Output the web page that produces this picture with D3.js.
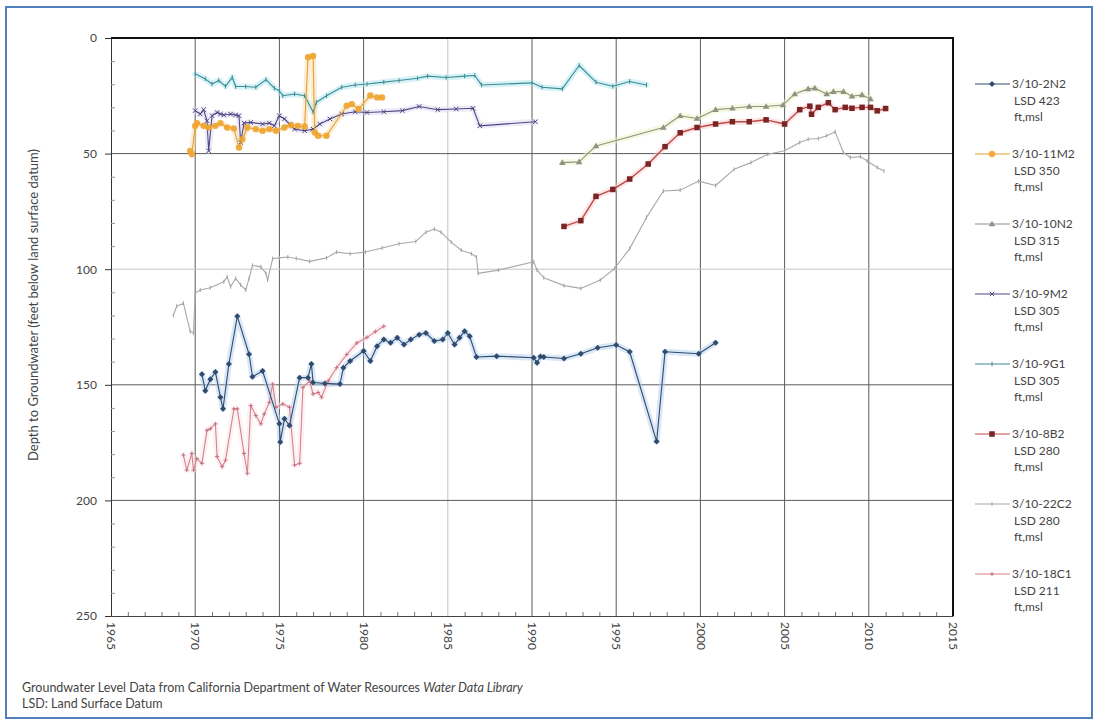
<!DOCTYPE html>
<html>
<head>
<meta charset="utf-8">
<script src="https://cdn.jsdelivr.net/npm/d3@7"></script>
<style>
body { margin: 0; background: #fff; }
svg { font-family: Lato, "Open Sans", sans-serif; }
</style>
</head>
<body>
<div id="chart"></div>
<script>
// [year, depth in feet below LSD]
var s2N2 = [[1970.4,145.4],[1970.6,152.6],[1970.9,147.6],[1971.2,144.5],[1971.5,155.4],[1971.65,160.4],[1972.0,141],[1972.5,120.4],[1973.2,136.8],[1973.4,146.5],[1974.0,144],[1975.0,166.9],[1975.05,174.7],[1975.3,164.7],[1975.6,167.6],[1976.2,146.9],[1976.7,146.9],[1976.9,141],[1977.0,149],[1977.7,149.4],[1978.6,149.7],[1978.8,142.6],[1979.2,139.7],[1980.0,135.4],[1980.4,139.7],[1980.8,133.3],[1981.2,130.4],[1981.6,131.8],[1982.0,129.7],[1982.4,132.6],[1982.8,130.4],[1983.3,128.3],[1983.7,127.6],[1984.2,131.1],[1984.7,130.4],[1985.0,127.6],[1985.4,132.6],[1985.7,129.7],[1986.0,126.8],[1986.3,129],[1986.7,138],[1987.9,137.6],[1990.1,138.3],[1990.3,140.5],[1990.5,137.8],[1990.7,138],[1991.9,138.6],[1992.9,136.6],[1993.9,134],[1995.0,132.8],[1995.8,135.7],[1997.4,174.5],[1997.9,135.7],[1999.9,136.6],[2000.9,131.8]];
var s11M2 = [[1969.7,48.8],[1969.8,50.3],[1970.0,38],[1970.1,36.8],[1970.5,38],[1970.8,38.7],[1971.2,38],[1971.5,36.8],[1971.9,38.7],[1972.3,39.1],[1972.6,47.4],[1972.8,43.8],[1973.1,38.7],[1973.6,39.4],[1974.0,40.1],[1974.4,39.4],[1974.8,40.1],[1975.3,38.7],[1975.7,37.7],[1976.1,38],[1976.5,38.3],[1976.7,8.3],[1977.0,7.8],[1977.1,40.9],[1977.3,42.3],[1977.8,42.3],[1979.0,29.3],[1979.3,28.6],[1979.7,30.7],[1980.4,24.9],[1980.8,25.7],[1981.1,25.7]];
var s10N2 = [[1991.8,53.9],[1992.8,53.6],[1993.8,46.7],[1997.8,38.7],[1998.8,33.6],[1999.8,34.8],[2000.9,31],[2001.9,30.4],[2002.9,29.6],[2003.9,29.6],[2004.9,29],[2005.6,24.2],[2006.4,22],[2006.8,21.7],[2007.5,24.2],[2007.9,23.2],[2008.5,23.2],[2009.0,25.2],[2009.6,24.6],[2010.1,26.4]];
var s9M2 = [[1970.0,31.4],[1970.3,32.9],[1970.5,31],[1970.7,35.8],[1970.8,48.8],[1971.0,33.6],[1971.3,32.2],[1971.5,32.9],[1971.7,33.3],[1972.1,32.9],[1972.4,33.3],[1972.6,33.6],[1972.7,45.2],[1972.9,36.8],[1973.3,36.5],[1974.0,37.2],[1974.4,36.8],[1974.7,38],[1975.0,33.6],[1975.3,35],[1975.6,37.2],[1975.9,39.4],[1976.5,40.1],[1977.0,39.4],[1977.4,37.2],[1978.0,35],[1978.7,32.9],[1979.5,31.9],[1980.2,32.2],[1981.2,31.9],[1982.3,31.4],[1983.3,29.6],[1984.4,31],[1985.5,30.7],[1986.5,30.4],[1986.9,38],[1990.2,36.2]];
var s9G1 = [[1970.0,15.5],[1970.6,17.7],[1971.0,19.9],[1971.4,18.4],[1971.8,20.9],[1972.2,17],[1972.4,21],[1973.0,21],[1973.6,21.3],[1974.2,18],[1974.7,21.7],[1975.0,22.8],[1975.2,25],[1975.9,24.2],[1976.5,25],[1977.0,32],[1977.2,27.8],[1977.8,25],[1978.7,21.3],[1979.5,20.3],[1980.2,19.9],[1981.2,19.1],[1982.1,18.4],[1983.2,17.4],[1983.8,16.5],[1984.9,17.1],[1986.0,16.5],[1986.6,16.2],[1987.0,20.3],[1990.0,19.4],[1990.6,21.3],[1991.8,22],[1992.8,11.9],[1993.8,19.1],[1994.8,20.9],[1995.8,18.8],[1996.8,20.3]];
var s8B2 = [[1991.9,81.5],[1992.9,79],[1993.8,68.5],[1994.8,65.5],[1995.8,61],[1996.9,54.5],[1997.9,47],[1998.8,41],[1999.8,38.7],[2000.9,37.2],[2001.9,36.2],[2002.9,36.2],[2003.9,35.4],[2005.0,37.2],[2005.9,31],[2006.5,29.5],[2006.6,33],[2007.0,30],[2007.6,28],[2008.0,31],[2008.6,30],[2009.0,30.4],[2009.6,30],[2010.1,30],[2010.5,31.5],[2011.0,30.5]];
var s22C2 = [[1968.7,120],[1968.9,116],[1969.3,114.7],[1969.7,126.9],[1969.9,127.6],[1970.0,110.4],[1970.3,109],[1970.9,108],[1971.7,105.4],[1971.9,103.3],[1972.1,107.6],[1972.4,104],[1972.7,106.8],[1973.0,109],[1973.2,104],[1973.4,98.3],[1973.9,99],[1974.2,101.8],[1974.3,104.7],[1974.6,95.4],[1975.0,95.1],[1975.5,94.7],[1976.0,95.4],[1976.8,96.6],[1977.8,95.1],[1978.4,92.6],[1979.2,93.3],[1980.1,92.6],[1981.1,90.8],[1982.1,89],[1983.1,88],[1983.7,84],[1984.2,82.6],[1984.6,84],[1985.2,88.3],[1985.8,91.8],[1986.4,93.3],[1986.7,94.7],[1986.8,101.8],[1988.0,100.4],[1990.1,96.8],[1990.3,100.4],[1990.7,103.7],[1991.9,107.1],[1992.9,108.3],[1994.05,104.7],[1994.9,99.7],[1995.8,91.1],[1996.8,77.6],[1997.8,66.2],[1998.8,65.8],[1999.9,61.9],[2000.9,63.8],[2002.0,56.8],[2003.0,53.9],[2004.0,50.3],[2005.0,48.8],[2005.9,45.2],[2006.4,43.8],[2007.0,43.5],[2007.5,42.3],[2008.0,40.6],[2008.5,49.6],[2008.9,51.7],[2009.5,51.3],[2009.9,53.2],[2010.5,56],[2010.9,57.5]];
var s18C1 = [[1969.3,180.4],[1969.5,186.9],[1969.8,179.7],[1969.9,186.9],[1970.1,181.9],[1970.4,184],[1970.7,169.7],[1970.9,169],[1971.2,166.9],[1971.3,181],[1971.6,185.4],[1971.8,182.6],[1972.3,160.4],[1972.5,160.4],[1972.9,179.7],[1973.1,188.3],[1973.3,159],[1973.6,163.3],[1973.9,166.9],[1974.1,162.6],[1974.4,157.6],[1974.6,149.7],[1974.8,159.7],[1975.2,158.3],[1975.6,159.7],[1975.9,184.7],[1976.2,184],[1976.4,151.1],[1976.8,148.3],[1977.0,154],[1977.3,153.3],[1977.5,155.4],[1977.9,148.3],[1978.4,142.6],[1979.0,136.9],[1979.6,131.9],[1980.2,129.5],[1980.7,127],[1981.2,124.7]];

var seriesNames = ['3/10-2N2', '3/10-11M2', '3/10-10N2', '3/10-9M2', '3/10-9G1', '3/10-8B2', '3/10-22C2', '3/10-18C1'];
var seriesLSD = ['LSD 423', 'LSD 350', 'LSD 315', 'LSD 305', 'LSD 305', 'LSD 280', 'LSD 280', 'LSD 211'];
var seriesData = [s2N2, s11M2, s10N2, s9M2, s9G1, s8B2, s22C2, s18C1];
var xTicks = [1965, 1970, 1975, 1980, 1985, 1990, 1995, 2000, 2005, 2010, 2015];
var yTicks = [0, 50, 100, 150, 200, 250];

// look of each series: line colour, halo colour, marker
var styles = [
	{line: '#2f4b6e', halo: '#b4d0f0', marker: 'diamond', size: 3, mfill: '#2f4b6e'},
	{line: '#e8a030', halo: '#f8dcaa', marker: 'circle', size: 3.2, mfill: '#f0a430'},
	{line: '#8c9484', halo: '#f0f2c0', marker: 'triangle', size: 3.3, mfill: '#8c9484'},
	{line: '#4e4682', halo: '#e0daf4', marker: 'cross', size: 2.2, mfill: '#4e4682'},
	{line: '#3c8c94', halo: '#b0e6f0', marker: 'tick', size: 2.2, mfill: '#3c8c94'},
	{line: '#c04848', halo: '#f8d0d0', marker: 'square', size: 4.5, mfill: '#7a2424'},
	{line: '#a8a8b0', halo: null, marker: 'tick', size: 2, mfill: '#a0a0a8'},
	{line: '#d8808e', halo: '#fae4e8', marker: 'plus', size: 2, mfill: '#c87080'}
];

var width = 1099, height = 724;
var svg = d3.select('#chart').append('svg')
	.attr('width', width)
	.attr('height', height);

// blue frame round the picture
svg.append('rect')
	.attr('x', 6).attr('y', 7)
	.attr('width', 1086).attr('height', 711)
	.attr('fill', 'none')
	.attr('stroke', '#4f7fbd')
	.attr('stroke-width', 2);

var x = d3.scaleLinear().domain([1965, 2015]).range([111, 953]);
var y = d3.scaleLinear().domain([0, 250]).range([38, 616]);

// gridlines
var gx = svg.append('g');
gx.selectAll('line').data(xTicks.slice(1, -1)).enter().append('line')
	.attr('x1', function(d){ return x(d); })
	.attr('x2', function(d){ return x(d); })
	.attr('y1', y(0)).attr('y2', y(250))
	.attr('stroke', function(d){ return d == 1985 ? '#c4c4c4' : '#5a5a5a'; })
	.attr('stroke-width', 1);
var gy = svg.append('g');
gy.selectAll('line').data(yTicks.slice(1, -1)).enter().append('line')
	.attr('x1', x(1965)).attr('x2', x(2015))
	.attr('y1', function(d){ return y(d); })
	.attr('y2', function(d){ return y(d); })
	.attr('stroke', function(d){ return d == 100 ? '#c4c4c4' : '#5a5a5a'; })
	.attr('stroke-width', 1);

// top and right borders
svg.append('line').attr('x1', x(1965)).attr('x2', x(2015) + 1).attr('y1', y(0)).attr('y2', y(0))
	.attr('stroke', '#111').attr('stroke-width', 2);
svg.append('line').attr('x1', x(2015)).attr('x2', x(2015)).attr('y1', y(0)).attr('y2', y(250))
	.attr('stroke', '#111').attr('stroke-width', 2);

// y axis
var yAxis = d3.axisLeft(y).tickValues(yTicks).tickSize(6).tickPadding(8);
svg.append('g')
	.attr('transform', 'translate(' + x(1965) + ',0)')
	.call(yAxis)
	.call(function(g){
		g.select('.domain').attr('stroke', '#333');
		g.selectAll('.tick line').attr('stroke', '#333');
		g.selectAll('.tick text').attr('font-size', 12).attr('fill', '#444').attr('font-family', 'Lato, sans-serif');
	});
// y minor ticks
var yMinor = d3.axisRight(y).tickValues(d3.range(10, 250, 10).filter(function(v){ return v % 50 != 0; })).tickSize(4).tickFormat('');
svg.append('g')
	.attr('transform', 'translate(' + x(1965) + ',0)')
	.call(yMinor)
	.call(function(g){
		g.select('.domain').remove();
		g.selectAll('.tick line').attr('stroke', '#999');
	});

// x axis
var xAxis = d3.axisBottom(x).tickValues(xTicks).tickSize(0).tickPadding(6).tickFormat(d3.format('d'));
svg.append('g')
	.attr('transform', 'translate(0,' + y(250) + ')')
	.call(xAxis)
	.call(function(g){
		g.select('.domain').attr('stroke', '#444');
		g.selectAll('.tick text')
			.attr('font-size', 12).attr('fill', '#444').attr('font-family', 'Lato, sans-serif')
			.attr('transform', 'rotate(90)')
			.attr('text-anchor', 'start')
			.attr('dy', '0.35em')
			.attr('x', 6).attr('y', 0);
	});
var xMinor = d3.axisTop(x).tickValues(d3.range(1966, 2015).filter(function(v){ return v % 5 != 0; })).tickSize(4).tickFormat('');
svg.append('g')
	.attr('transform', 'translate(0,' + y(250) + ')')
	.call(xMinor)
	.call(function(g){
		g.select('.domain').remove();
		g.selectAll('.tick line').attr('stroke', '#777');
	});

// y title
svg.append('text')
	.attr('transform', 'translate(38,' + 305 + ') rotate(-90)')
	.attr('text-anchor', 'middle')
	.attr('font-size', 13)
	.attr('fill', '#444')
	.text('Depth to Groundwater (feet below land surface datum)');

// series
var line = d3.line()
	.x(function(d){ return x(d[0]); })
	.y(function(d){ return y(d[1]); });

function drawMarker(g, st, px, py){
	var s = st.size;
	if (st.marker == 'circle'){
		g.append('circle').attr('cx', px).attr('cy', py).attr('r', s).attr('fill', st.mfill).attr('opacity', 0.9);
	} else if (st.marker == 'square'){
		g.append('rect').attr('x', px - s / 2 - 0.5).attr('y', py - s / 2 - 0.5).attr('width', s + 1).attr('height', s + 1).attr('fill', st.mfill);
	} else if (st.marker == 'diamond'){
		g.append('path').attr('d', 'M' + px + ',' + (py - s) + 'L' + (px + s) + ',' + py + 'L' + px + ',' + (py + s) + 'L' + (px - s) + ',' + py + 'Z').attr('fill', st.mfill);
	} else if (st.marker == 'triangle'){
		g.append('path').attr('d', 'M' + px + ',' + (py - s) + 'L' + (px + s) + ',' + (py + s * 0.7) + 'L' + (px - s) + ',' + (py + s * 0.7) + 'Z').attr('fill', st.mfill);
	} else if (st.marker == 'cross'){
		g.append('path').attr('d', 'M' + (px - s) + ',' + (py - s) + 'L' + (px + s) + ',' + (py + s) + 'M' + (px - s) + ',' + (py + s) + 'L' + (px + s) + ',' + (py - s)).attr('stroke', st.mfill).attr('stroke-width', 1);
	} else if (st.marker == 'plus'){
		g.append('path').attr('d', 'M' + (px - s) + ',' + py + 'L' + (px + s) + ',' + py + 'M' + px + ',' + (py - s) + 'L' + px + ',' + (py + s)).attr('stroke', st.mfill).attr('stroke-width', 1);
	} else {
		g.append('path').attr('d', 'M' + px + ',' + (py - s) + 'L' + px + ',' + (py + s)).attr('stroke', st.mfill).attr('stroke-width', 1);
	}
}

var drawOrder = [6, 7, 0, 4, 3, 1, 2, 5];
// soft halos under the lines, as in the scanned original
drawOrder.forEach(function(i){
	var st = styles[i];
	if (!st.halo) return;
	svg.append('path')
		.datum(seriesData[i])
		.attr('d', line)
		.attr('fill', 'none')
		.attr('stroke', st.halo)
		.attr('stroke-width', 6)
		.attr('stroke-linejoin', 'round')
		.attr('stroke-linecap', 'round')
		.attr('opacity', 0.5);
});
drawOrder.forEach(function(i){
	var st = styles[i];
	var g = svg.append('g');
	g.append('path')
		.datum(seriesData[i])
		.attr('d', line)
		.attr('fill', 'none')
		.attr('stroke', st.line)
		.attr('stroke-width', i == 5 ? 1.4 : 1.1)
		.attr('stroke-linejoin', 'round');
	seriesData[i].forEach(function(d){
		drawMarker(g, st, x(d[0]), y(d[1]));
	});
});

// legend
var legend = svg.append('g').attr('font-size', 12).attr('fill', '#444');
seriesNames.forEach(function(name, i){
	var ly = 84 + i * 70;
	var st = styles[i];
	var g = legend.append('g');
	g.append('line').attr('x1', 975).attr('x2', 1010).attr('y1', ly).attr('y2', ly)
		.attr('stroke', st.line).attr('stroke-width', 1.2);
	drawMarker(g, st, 992, ly);
	g.append('text').attr('x', 1012).attr('y', ly).attr('dy', '0.35em').attr('fill', '#444').text(name);
	g.append('text').attr('x', 1014).attr('y', ly + 17).attr('dy', '0.35em').attr('fill', '#444').text(seriesLSD[i]);
	g.append('text').attr('x', 1014).attr('y', ly + 33).attr('dy', '0.35em').attr('fill', '#444').text('ft,msl');
});

// notes
var note = svg.append('text').attr('x', 22).attr('y', 692).attr('font-size', 12.5).attr('fill', '#444');
note.append('tspan').text('Groundwater Level Data from California Department of Water Resources ');
note.append('tspan').attr('font-style', 'italic').text('Water Data Library');
svg.append('text').attr('x', 22).attr('y', 708).attr('font-size', 12.5).attr('fill', '#444')
	.text('LSD: Land Surface Datum');
</script>
</body>
</html>
